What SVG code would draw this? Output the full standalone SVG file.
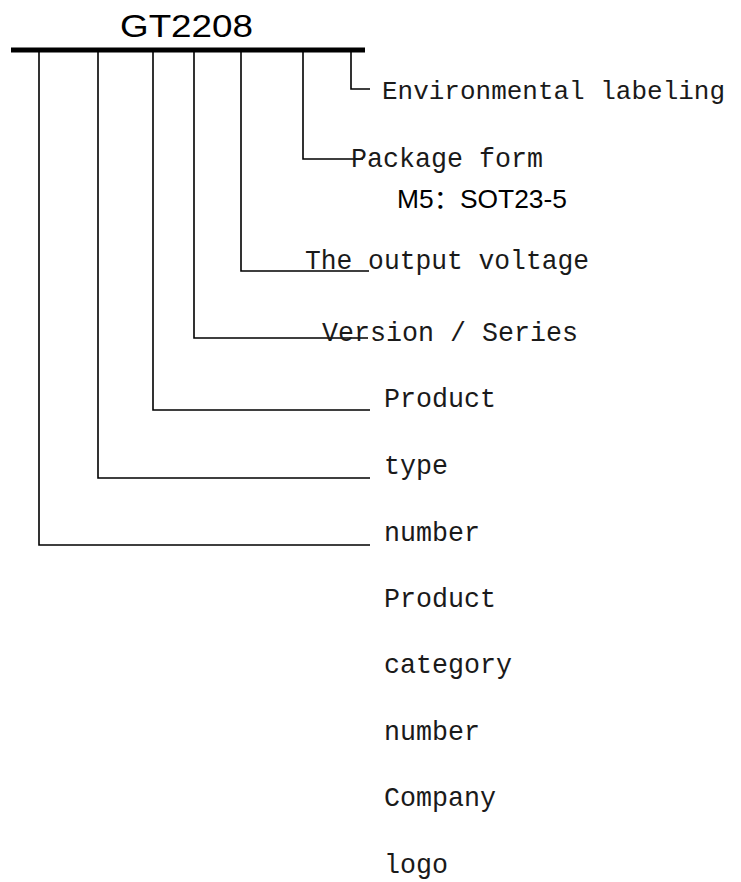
<svg xmlns="http://www.w3.org/2000/svg" width="741" height="882" viewBox="0 0 741 882">
<style>
.bg{fill:#fff}
.ln{fill:none;stroke:#000;stroke-width:1.6}
.bar{stroke:#000;stroke-width:5}
.mono{font-family:"Liberation Mono","Noto Sans CJK SC",monospace;font-size:28px;fill:#1a1a1a}
.mono-s{font-size:26px}
.sans{font-family:"Liberation Sans","Noto Sans CJK SC",sans-serif;fill:#000}
</style>
<rect class="bg" width="741" height="882"/>
<g id="title">
<text class="sans" x="120" y="37" font-size="32" textLength="133" lengthAdjust="spacingAndGlyphs">GT2208</text>
</g>
<g id="connectors">
<line class="bar" x1="11" y1="50" x2="365" y2="50"/>
<polyline class="ln" points="39,50 39,545 370,545"/>
<polyline class="ln" points="98,50 98,478 370,478"/>
<polyline class="ln" points="153,50 153,410 370,410"/>
<polyline class="ln" points="194,50 194,338 368,338"/>
<polyline class="ln" points="241,50 241,271 369,271"/>
<polyline class="ln" points="303,50 303,159 363,159"/>
<polyline class="ln" points="351,50 351,89 370,89"/>
</g>
<g id="env"><text class="mono mono-s" x="382" y="99" textLength="343" lengthAdjust="spacingAndGlyphs">Environmental labeling</text></g>
<g id="package"><text class="mono" x="351" y="167" textLength="192" lengthAdjust="spacingAndGlyphs">Package form</text>
<text class="sans" x="397" y="208" font-size="25" textLength="170" lengthAdjust="spacingAndGlyphs">M5：SOT23-5</text></g>
<g id="voltage"><text class="mono" x="305" y="269" textLength="284" lengthAdjust="spacingAndGlyphs">The output voltage</text></g>
<g id="version"><text class="mono" x="322" y="341" textLength="256" lengthAdjust="spacingAndGlyphs">Version / Series</text></g>
<g id="product"><text class="mono" x="384" y="407" textLength="112" lengthAdjust="spacingAndGlyphs">Product</text></g>
<g id="type"><text class="mono" x="384" y="474" textLength="64" lengthAdjust="spacingAndGlyphs">type</text></g>
<g id="number"><text class="mono" x="384" y="541" textLength="96" lengthAdjust="spacingAndGlyphs">number</text></g>
<g id="category">
<text class="mono" x="384" y="607" textLength="112" lengthAdjust="spacingAndGlyphs">Product</text>
<text class="mono" x="384" y="673" textLength="128" lengthAdjust="spacingAndGlyphs">category</text>
<text class="mono" x="384" y="740" textLength="96" lengthAdjust="spacingAndGlyphs">number</text>
</g>
<g id="logo">
<text class="mono" x="384" y="806" textLength="112" lengthAdjust="spacingAndGlyphs">Company</text>
<text class="mono" x="384" y="873" textLength="64" lengthAdjust="spacingAndGlyphs">logo</text>
</g>
</svg>
